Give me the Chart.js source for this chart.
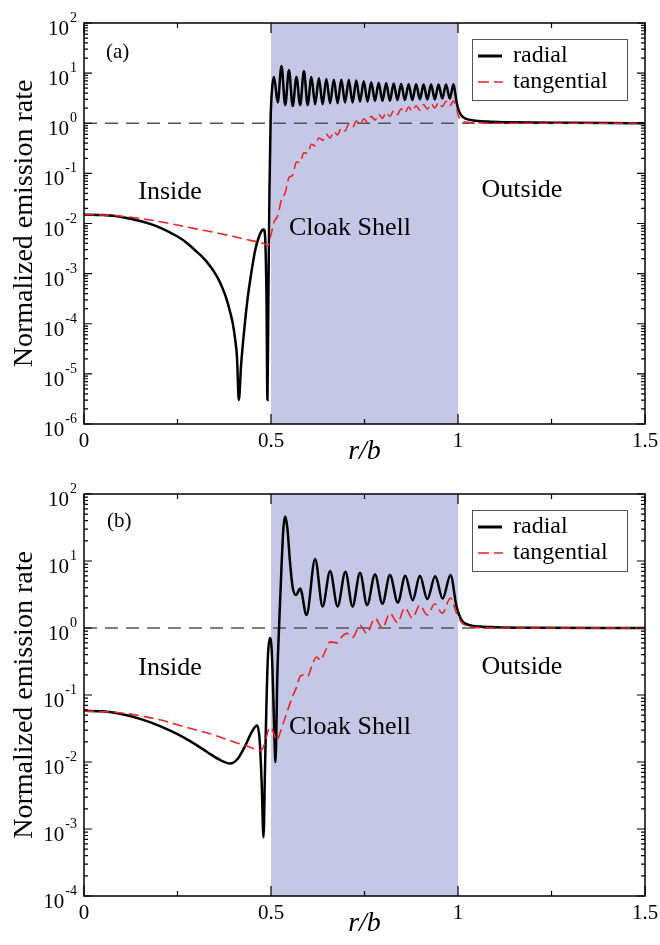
<!DOCTYPE html>
<html>
<head>
<meta charset="utf-8">
<script src="https://cdn.jsdelivr.net/npm/chart.js@4.4.1/dist/chart.umd.min.js"></script>
<style>
  html, body { margin: 0; padding: 0; background: #fff; }
  #wrap { position: relative; width: 660px; height: 945px; }
  .panel { position: absolute; left: 0; width: 660px; }
  canvas { display: block; }
</style>
</head>
<body>
<div id="wrap">
  <div class="panel" style="top:0;height:470px"><canvas id="chartA" width="660" height="470"></canvas></div>
  <div class="panel" style="top:470px;height:475px"><canvas id="chartB" width="660" height="475"></canvas></div>
</div>
<script>
// ---- panel (a): emission rate vs r/b ----
const radialRA = [0, 0.05, 0.1, 0.15, 0.2, 0.25, 0.275, 0.3, 0.315, 0.33, 0.34, 0.35, 0.36, 0.37, 0.38, 0.39,
  0.398, 0.404, 0.409, 0.414, 0.42, 0.428,
  0.437, 0.447, 0.458, 0.468, 0.476, 0.481, 0.485, 0.488, 0.4905, 0.493, 0.496, 0.499, 0.503,
  0.508, 0.518, 0.528, 0.538, 0.548, 0.558, 0.568, 0.578, 0.588, 0.598, 0.608, 0.618, 0.628, 0.638,
  0.648, 0.658, 0.668, 0.678, 0.688, 0.698, 0.708, 0.718, 0.728, 0.738, 0.748, 0.758, 0.768, 0.778,
  0.788, 0.798, 0.808, 0.818, 0.828, 0.838, 0.848, 0.858, 0.868, 0.878, 0.888, 0.898, 0.908, 0.918,
  0.928, 0.938, 0.948, 0.958, 0.968, 0.978, 0.988,
  0.995, 1.0, 1.005, 1.012, 1.02, 1.04, 1.08, 1.13, 1.2, 1.3, 1.4, 1.5];
const radialA = [0.015, 0.0147, 0.0135, 0.0112, 0.0085, 0.0055, 0.0041, 0.0028, 0.0022, 0.00166, 0.00132, 0.00102, 7.6e-4, 5.2e-4, 3.3e-4, 1.8e-4,
  1e-4, 5e-5, 2.2e-5, 3e-6, 1.5e-5, 7e-5,
  3e-4, 1e-3, 3e-3, 5.5e-3, 7.3e-3, 7.6e-3, 4e-3, 3e-4, 3e-6, 3e-4, 0.05, 1.2, 5,
  8.4, 2.6, 13.9, 2.3, 11.5, 2.2, 8.4, 2.3, 11.0, 2.3, 8.4, 2.4, 8.0, 2.4,
  7.6, 2.5, 7.4, 2.5, 7.4, 2.6, 7.3, 2.6, 7.1, 2.7, 6.9, 2.7, 6.6, 2.8,
  6.4, 2.8, 6.3, 2.8, 6.2, 2.9, 6.1, 2.9, 6.0, 2.9, 6.0, 3.0, 5.9, 3.0,
  5.9, 3.0, 5.9, 3.1, 5.9, 3.1, 6.0,
  3.0, 2.0, 1.6, 1.35, 1.24, 1.14, 1.08, 1.05, 1.03, 1.02, 1.01, 1.0];

const tangRA = [0, 0.05, 0.1, 0.15, 0.2, 0.25, 0.3, 0.35, 0.4, 0.45, 0.48, 0.491, 0.5,
  0.508, 0.518, 0.528, 0.538, 0.548, 0.558, 0.568, 0.578, 0.588, 0.598, 0.608, 0.618, 0.628, 0.638,
  0.648, 0.658, 0.668, 0.678, 0.688, 0.698, 0.708, 0.718, 0.728, 0.738, 0.748, 0.758, 0.768, 0.778,
  0.788, 0.798, 0.808, 0.818, 0.828, 0.838, 0.848, 0.858, 0.868, 0.878, 0.888, 0.898, 0.908, 0.918,
  0.928, 0.938, 0.948, 0.958, 0.968, 0.978, 0.988,
  0.995, 1.0, 1.006, 1.015, 1.03, 1.06, 1.1, 1.5];
const tangA = [0.015, 0.0148, 0.014, 0.0126, 0.011, 0.0093, 0.0078, 0.0066, 0.0055, 0.0045, 0.004, 0.0036, 0.006,
  0.0106, 0.0142, 0.030, 0.041, 0.082, 0.093, 0.168, 0.165, 0.258, 0.249, 0.381, 0.356, 0.515, 0.454,
  0.605, 0.507, 0.683, 0.587, 0.806, 0.703, 0.963, 0.828, 1.11, 0.935, 1.23, 1.04, 1.38, 1.15,
  1.51, 1.25, 1.65, 1.36, 1.79, 1.49, 1.95, 1.61, 2.11, 1.74, 2.24, 1.82, 2.35, 1.91,
  2.46, 2.02, 2.61, 2.14, 2.74, 2.23, 2.8,
  2.2, 1.5, 1.2, 1.08, 1.03, 1.01, 1.0, 1.0];

// ---- panel (b) ----
const radialRB = [0, 0.05, 0.1, 0.15, 0.2, 0.25, 0.3, 0.33, 0.36, 0.39, 0.41, 0.43, 0.45, 0.463, 0.47, 0.475,
  0.48, 0.484, 0.488, 0.492, 0.497, 0.502, 0.506, 0.509, 0.512, 0.517, 0.522, 0.528, 0.533, 0.538,
  0.544, 0.551, 0.558, 0.567, 0.578, 0.595, 0.618, 0.638, 0.658, 0.678, 0.699, 0.718, 0.738, 0.757,
  0.778, 0.798, 0.818, 0.839, 0.859, 0.879, 0.898, 0.918, 0.939, 0.959, 0.98, 0.996, 1.01, 1.032,
  1.06, 1.1, 1.2, 1.5];
const radialB = [0.058, 0.057, 0.052, 0.044, 0.035, 0.026, 0.018, 0.014, 0.011, 0.0095, 0.011, 0.017, 0.029, 0.035, 0.02, 0.005,
  7.5e-4, 0.008, 0.08, 0.4, 0.71, 0.45, 0.1, 0.025, 0.01, 0.2, 1.2, 8, 30, 46,
  30, 9.3, 4, 3.1, 3.9, 1.56, 10.7, 2.1, 7.1, 2.1, 6.9, 2.1, 6.7, 2.2,
  6.3, 2.3, 6.2, 2.4, 6.0, 2.6, 6.0, 2.7, 5.9, 2.75, 6.2, 2.1, 1.3, 1.1,
  1.05, 1.03, 1.01, 1.0];

const tangRB = [0, 0.1, 0.2, 0.265, 0.3, 0.35, 0.4, 0.44, 0.471, 0.482, 0.493, 0.5, 0.507, 0.515, 0.525,
  0.542, 0.556, 0.568, 0.578, 0.588, 0.598, 0.61, 0.622, 0.632, 0.645, 0.658, 0.676, 0.69, 0.703, 0.718,
  0.738, 0.756, 0.778, 0.798, 0.818, 0.838, 0.858, 0.878, 0.898, 0.918, 0.938, 0.958, 0.98, 0.996,
  1.01, 1.03, 1.06, 1.1, 1.5];
const tangB = [0.058, 0.054, 0.043, 0.034, 0.03, 0.025, 0.02, 0.017, 0.0148, 0.018, 0.03, 0.033, 0.027, 0.021, 0.028,
  0.054, 0.09, 0.13, 0.19, 0.2, 0.19, 0.28, 0.37, 0.33, 0.45, 0.62, 0.6, 0.75, 0.83, 0.72,
  1.1, 0.83, 1.4, 1.0, 1.66, 1.2, 2.0, 1.4, 2.2, 1.56, 2.3, 1.66, 2.8, 1.66,
  1.2, 1.05, 1.01, 1.0, 1.0];

// free-space reference level and cloak shell bounds
const unityR = [0, 1.5];
const unityY = [1, 1];
const shell = [0.5, 1];

const xTicks = [0, 0.25, 0.5, 0.75, 1, 1.25, 1.5];
const xLabels = ['0', '', '0.5', '', '1', '', '1.5'];
const decadesA = [-6, -5, -4, -3, -2, -1, 0, 1, 2];
const decadesB = [-4, -3, -2, -1, 0, 1, 2];
const seriesNames = ['radial', 'tangential'];
const regionNames = ['Inside', 'Cloak Shell', 'Outside'];

const SERIF = '"Liberation Serif", "Times New Roman", serif';
const RED = '#e8262b';

function toPoints(xs, ys) {
  return xs.map((x, i) => ({ x: x, y: ys[i] }));
}

// shell band, frame, inward ticks, 10^n labels, legend and region notes
const paperFrame = {
  id: 'paperFrame',
  beforeDatasetsDraw(chart) {
    const { ctx, chartArea: a, scales: { x } } = chart;
    const x0 = x.getPixelForValue(shell[0]);
    const x1 = x.getPixelForValue(shell[1]);
    ctx.save();
    ctx.fillStyle = '#c5c7e6';
    ctx.fillRect(x0, a.top, x1 - x0, a.bottom - a.top);
    ctx.restore();
  },
  afterDatasetsDraw(chart, args, opts) {
    const { ctx, chartArea: a, scales: { x, y } } = chart;
    ctx.save();

    ctx.strokeStyle = '#000';
    ctx.lineWidth = 1.5;
    ctx.strokeRect(a.left, a.top, a.right - a.left, a.bottom - a.top);

    ctx.lineWidth = 1.2;
    ctx.beginPath();
    xTicks.forEach((v, i) => {
      const px = x.getPixelForValue(v);
      const len = xLabels[i] ? 10 : 5;
      ctx.moveTo(px, a.bottom); ctx.lineTo(px, a.bottom - len);
      ctx.moveTo(px, a.top); ctx.lineTo(px, a.top + len);
    });
    opts.decades.forEach((d, i) => {
      const base = Math.pow(10, d);
      let py = y.getPixelForValue(base);
      ctx.moveTo(a.left, py); ctx.lineTo(a.left + 8, py);
      ctx.moveTo(a.right, py); ctx.lineTo(a.right - 8, py);
      if (i < opts.decades.length - 1) {
        for (let m = 2; m < 10; m++) {
          py = y.getPixelForValue(m * base);
          ctx.moveTo(a.left, py); ctx.lineTo(a.left + 4, py);
          ctx.moveTo(a.right, py); ctx.lineTo(a.right - 4, py);
        }
      }
    });
    ctx.stroke();

    // y tick labels as 10 with a raised exponent
    ctx.fillStyle = '#000';
    ctx.textBaseline = 'alphabetic';
    ctx.textAlign = 'left';
    opts.decades.forEach(d => {
      const py = y.getPixelForValue(Math.pow(10, d));
      const exp = String(d);
      ctx.font = '14px ' + SERIF;
      const we = ctx.measureText(exp).width;
      ctx.font = '21px ' + SERIF;
      const wb = ctx.measureText('10').width;
      const left = a.left - 7 - we - wb - 1;
      ctx.fillText('10', left, py + 12);
      ctx.font = '14px ' + SERIF;
      ctx.fillText(exp, left + wb + 1, py - 1);
    });

    // x tick labels
    ctx.font = '21px ' + SERIF;
    ctx.textAlign = 'center';
    xTicks.forEach((v, i) => {
      if (xLabels[i]) ctx.fillText(xLabels[i], x.getPixelForValue(v), a.bottom + 23);
    });

    // axis titles
    ctx.font = 'italic 28px ' + SERIF;
    ctx.fillText('r/b', (a.left + a.right) / 2, a.bottom + 35);
    ctx.save();
    ctx.translate(25, (a.top + a.bottom) / 2);
    ctx.rotate(-Math.PI / 2);
    ctx.font = '28px ' + SERIF;
    ctx.textBaseline = 'middle';
    ctx.fillText('Normalized emission rate', 0, 0);
    ctx.restore();

    // region notes and panel tag
    ctx.textBaseline = 'middle';
    ctx.font = '26px ' + SERIF;
    opts.notes.forEach(n => {
      ctx.fillText(n.text, x.getPixelForValue(n.x), y.getPixelForValue(n.y));
    });
    ctx.font = '21px ' + SERIF;
    ctx.fillText(opts.tag.text, x.getPixelForValue(opts.tag.x), y.getPixelForValue(opts.tag.y));

    // legend box
    const bx = a.right - 173, by = a.top + 16, bw = 155, bh = 61;
    ctx.fillStyle = '#fff';
    ctx.fillRect(bx, by, bw, bh);
    ctx.strokeStyle = '#555';
    ctx.lineWidth = 1;
    ctx.strokeRect(bx + 0.5, by + 0.5, bw, bh);

    ctx.strokeStyle = '#000';
    ctx.lineWidth = 3;
    ctx.beginPath();
    ctx.moveTo(bx + 6, by + 17); ctx.lineTo(bx + 30, by + 17);
    ctx.stroke();
    ctx.strokeStyle = RED;
    ctx.lineWidth = 1.6;
    ctx.setLineDash([11, 5]);
    ctx.beginPath();
    ctx.moveTo(bx + 6, by + 43); ctx.lineTo(bx + 31, by + 43);
    ctx.stroke();
    ctx.setLineDash([]);

    ctx.fillStyle = '#000';
    ctx.textAlign = 'left';
    ctx.font = '24px ' + SERIF;
    ctx.fillText(seriesNames[0], bx + 41, by + 17);
    ctx.fillText(seriesNames[1], bx + 41, by + 43);

    ctx.restore();
  }
};

function buildChart(id, radX, radY, tanX, tanY, yMin, decades, pad, notes, tag) {
  return new Chart(document.getElementById(id), {
    type: 'line',
    data: {
      datasets: [
        {
          label: 'unity',
          data: toPoints(unityR, unityY),
          borderColor: '#555',
          borderWidth: 1.3,
          borderDash: [13, 8],
          pointRadius: 0,
          order: 3
        },
        {
          label: seriesNames[0],
          data: toPoints(radX, radY),
          borderColor: '#000',
          borderWidth: 2.5,
          pointRadius: 0,
          cubicInterpolationMode: 'monotone',
          order: 2
        },
        {
          label: seriesNames[1],
          data: toPoints(tanX, tanY),
          borderColor: RED,
          borderWidth: 1.6,
          borderDash: [10, 5],
          pointRadius: 0,
          cubicInterpolationMode: 'monotone',
          order: 1
        }
      ]
    },
    options: {
      responsive: false,
      animation: false,
      layout: { padding: pad },
      plugins: {
        legend: { display: false },
        tooltip: { enabled: false },
        paperFrame: { decades: decades, notes: notes, tag: tag }
      },
      scales: {
        x: { type: 'linear', min: 0, max: 1.5, display: false },
        y: { type: 'logarithmic', min: yMin, max: 100, display: false }
      }
    },
    plugins: [paperFrame]
  });
}

buildChart('chartA', radialRA, radialA, tangRA, tangA, 1e-6, decadesA,
  { left: 84, right: 15, top: 23, bottom: 46 },
  [
    { text: regionNames[0], x: 0.23, y: 0.043 },
    { text: regionNames[1], x: 0.711, y: 0.0081 },
    { text: regionNames[2], x: 1.171, y: 0.046 }
  ],
  { text: '(a)', x: 0.09, y: 26 });

buildChart('chartB', radialRB, radialB, tangRB, tangB, 1e-4, decadesB,
  { left: 84, right: 15, top: 24, bottom: 49 },
  [
    { text: regionNames[0], x: 0.23, y: 0.25 },
    { text: regionNames[1], x: 0.711, y: 0.033 },
    { text: regionNames[2], x: 1.171, y: 0.26 }
  ],
  { text: '(b)', x: 0.094, y: 39 });
</script>
</body>
</html>
